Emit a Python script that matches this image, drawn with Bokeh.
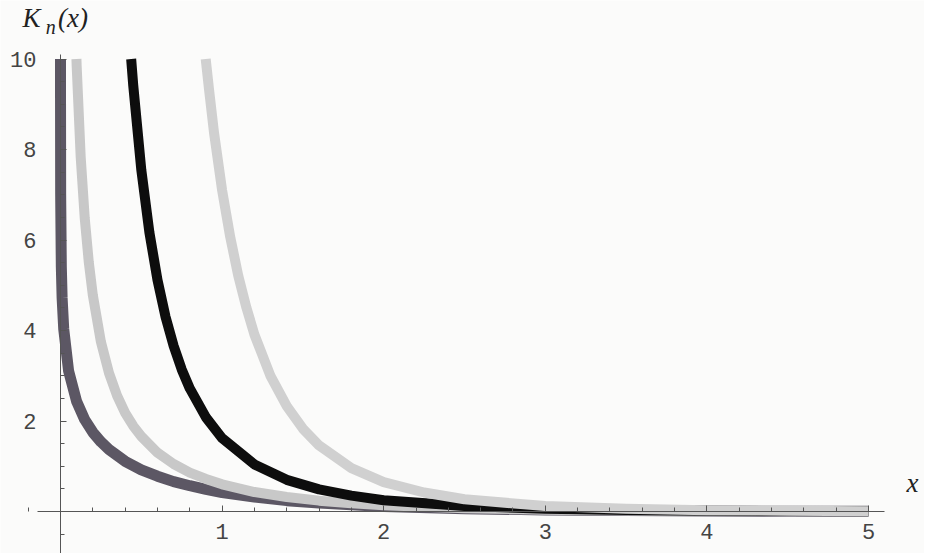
from bokeh.plotting import figure
from bokeh.models import FixedTicker, Label
from bokeh.embed import file_html
from bokeh.resources import INLINE

# values (curves start where they leave the top at K = 10)
x_k0 = [0.00005, 0.0001, 0.001, 0.005, 0.01, 0.02, 0.05, 0.1, 0.15, 0.2, 0.25, 0.3, 0.4, 0.5,
        0.6, 0.7, 0.8, 0.9, 1.0, 1.2, 1.4, 1.6, 1.8, 2.0, 2.5, 3.0, 3.5, 4.0, 4.5, 5.0]
k0 = [10.0, 9.33, 7.02, 5.42, 4.72, 4.03, 3.11, 2.43, 2.03, 1.75, 1.54, 1.37, 1.11, 0.92,
      0.78, 0.66, 0.57, 0.49, 0.42, 0.32, 0.24, 0.19, 0.15, 0.11, 0.062, 0.035, 0.020, 0.011, 0.006, 0.004]

x_k1 = [0.0986, 0.1, 0.125, 0.15, 0.175, 0.2, 0.25, 0.3, 0.35, 0.4, 0.45, 0.5, 0.6, 0.7, 0.8,
        0.9, 1.0, 1.2, 1.4, 1.6, 1.8, 2.0, 2.5, 3.0, 3.5, 4.0, 4.5, 5.0]
k1 = [10.0, 9.85, 7.83, 6.48, 5.51, 4.78, 3.75, 3.06, 2.56, 2.18, 1.89, 1.66, 1.30, 1.05, 0.86,
      0.72, 0.60, 0.43, 0.32, 0.24, 0.18, 0.14, 0.074, 0.040, 0.022, 0.013, 0.007, 0.004]

x_k2 = [0.4373, 0.45, 0.5, 0.55, 0.6, 0.65, 0.7, 0.75, 0.8, 0.9, 1.0, 1.2, 1.4, 1.6, 1.8, 2.0,
        2.5, 3.0, 3.5, 4.0, 4.5, 5.0]
k2 = [10.0, 9.42, 7.55, 6.17, 5.12, 4.30, 3.66, 3.14, 2.72, 2.08, 1.62, 1.04, 0.70, 0.49, 0.35, 0.25,
      0.12, 0.062, 0.032, 0.018, 0.010, 0.005]

x_k3 = [0.8985, 0.92, 0.95, 1.0, 1.05, 1.1, 1.15, 1.2, 1.3, 1.4, 1.5, 1.6, 1.8, 2.0, 2.25,
        2.5, 3.0, 3.5, 4.0, 4.5, 5.0]
k3 = [10.0, 9.30, 8.37, 7.10, 6.07, 5.21, 4.51, 3.91, 2.99, 2.33, 1.83, 1.46, 0.96, 0.65, 0.42,
      0.27, 0.12, 0.059, 0.030, 0.016, 0.008]

x_ticks = [1, 2, 3, 4, 5]
y_ticks = [2, 4, 6, 8, 10]
x_minor = [round(-0.2 + 0.2 * i, 1) for i in range(27)]
y_minor = [round(-1 + 0.5 * i, 1) for i in range(23)]

bg = "#fbfbfa"
p = figure(width=924, height=553, x_range=(-0.3713, 5.3465), y_range=(-0.928, 11.293),
           output_backend="svg", toolbar_location=None,
           background_fill_color=bg, border_fill_color=bg, outline_line_color=None,
           min_border_left=0, min_border_right=0, min_border_top=0, min_border_bottom=0)
p.grid.visible = False

colors = ["#5c5764", "#c8c8c8", "#0d0d0d", "#d0d0d0"]
widths = [11, 10, 10, 10]
for xs, ys, c, w in [(x_k0, k0, colors[0], widths[0]), (x_k1, k1, colors[1], widths[1]),
                     (x_k2, k2, colors[2], widths[2]), (x_k3, k3, colors[3], widths[3])]:
    p.line(xs, ys, line_color=c, line_width=w, line_join="round")

for ax in (p.xaxis[0], p.yaxis[0]):
    ax.fixed_location = 0
    ax.axis_line_color = "#555555"
    ax.major_tick_line_color = "#555555"
    ax.minor_tick_line_color = "#555555"
    ax.major_tick_in = 6
    ax.major_tick_out = 0
    ax.minor_tick_in = 4
    ax.minor_tick_out = 0
    ax.major_label_text_font = "Liberation Mono"
    ax.major_label_text_font_size = "22px"
    ax.major_label_text_color = "#444444"

p.xaxis.ticker = FixedTicker(ticks=x_ticks, minor_ticks=x_minor)
p.yaxis.ticker = FixedTicker(ticks=y_ticks, minor_ticks=y_minor)
p.xaxis.bounds = (-0.14, 5.1)
p.yaxis.bounds = (-0.928, 10.1)
p.xaxis.major_label_standoff = 12
p.yaxis.major_label_standoff = 24

serif = "Liberation Serif"
p.add_layout(Label(x=5.272, y=0.30, text="x", text_font=serif, text_font_style="italic",
                   text_font_size="27px", text_color="#222222", text_align="center"))
p.add_layout(Label(x=-0.235, y=10.585, text="K", text_font=serif, text_font_style="italic",
                   text_font_size="27px", text_color="#222222"))
p.add_layout(Label(x=-0.092, y=10.475, text="n", text_font=serif, text_font_style="italic",
                   text_font_size="20px", text_color="#222222"))
p.add_layout(Label(x=-0.015, y=10.585, text="(x)", text_font=serif, text_font_style="italic",
                   text_font_size="27px", text_color="#222222"))

open("out.html", "w").write(file_html(p, INLINE))
